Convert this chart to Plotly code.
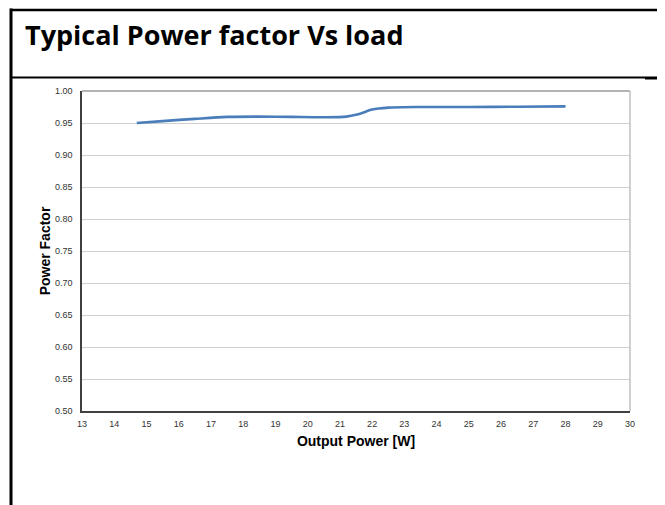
import plotly.graph_objects as go

# Data
output_power = [14.7, 15.5, 16.5, 17.5, 18.5, 19.5, 20.5, 21.2, 21.6, 22.0, 22.5, 23.5, 25.0, 26.5, 28.0]
power_factor = [0.950, 0.953, 0.9565, 0.9595, 0.960, 0.9595, 0.959, 0.960, 0.964, 0.971, 0.974, 0.9750, 0.9750, 0.9755, 0.9760]

x_ticks = list(range(13, 31))
y_ticks = [0.50, 0.55, 0.60, 0.65, 0.70, 0.75, 0.80, 0.85, 0.90, 0.95, 1.00]

OFF = 8  # page body margin
W, H = 665 - OFF, 505 - OFF
L, R, T, B = 82 - OFF, 630 - OFF, 91 - OFF, 411 - OFF  # plot area pixel bounds

def px(x):
    return (x - OFF - L) / (R - L)

def py(y):
    return (B - (y - OFF)) / (B - T)

fig = go.Figure()
fig.add_trace(go.Scatter(
    x=output_power, y=power_factor, mode="lines",
    line=dict(color="#4a7ebb", width=2.6, shape="spline", smoothing=0.8),
    showlegend=False, hoverinfo="skip"))

axis_font = dict(family="Liberation Sans, Arial, sans-serif", size=9, color="#333333")
title_font = dict(family="Liberation Sans, Arial, sans-serif", size=14, color="#000000")

fig.update_xaxes(
    range=[13, 30], tickvals=x_ticks, ticktext=[str(v) for v in x_ticks],
    showgrid=False, zeroline=False, showline=True, linecolor="#404040", linewidth=1.5,
    ticks="outside", ticklen=3, tickcolor="rgba(0,0,0,0)", tickfont=axis_font,
    title=dict(text="<b>Output Power [W]</b>", font=title_font, standoff=9))
fig.update_yaxes(
    range=[0.5, 1.0], tickvals=y_ticks, ticktext=["%.2f" % v for v in y_ticks],
    showgrid=True, gridcolor="#d0d0d0", gridwidth=1, zeroline=False,
    showline=True, linecolor="#404040", linewidth=1.5,
    ticks="outside", ticklen=6, tickcolor="rgba(0,0,0,0)", tickfont=axis_font,
    title=dict(text="<b>Power Factor</b>", font=title_font, standoff=1))

shapes = [
    # plot frame top and right (light gray)
    dict(type="line", xref="paper", yref="paper", x0=0, x1=1, y0=1, y1=1,
         line=dict(color="#9a9a9a", width=1.5)),
    dict(type="line", xref="paper", yref="paper", x0=1, x1=1, y0=0, y1=1,
         line=dict(color="#c0c0c0", width=1.5)),
    # document frame lines
    dict(type="line", xref="paper", yref="paper", x0=px(11), x1=px(11), y0=py(8.5), y1=py(506),
         line=dict(color="black", width=3)),
    dict(type="line", xref="paper", yref="paper", x0=px(10), x1=px(666), y0=py(10), y1=py(10),
         line=dict(color="black", width=2.5)),
    dict(type="line", xref="paper", yref="paper", x0=px(11), x1=px(666), y0=py(77.5), y1=py(77.5),
         line=dict(color="black", width=2)),
    dict(type="line", xref="paper", yref="paper", x0=px(645), x1=px(666), y0=py(78.5), y1=py(78.5),
         line=dict(color="black", width=2)),
]

fig.update_layout(
    width=W, height=H,
    margin=dict(l=L, r=W - R, t=T, b=H - B, pad=0),
    paper_bgcolor="white", plot_bgcolor="white",
    shapes=shapes,
    annotations=[dict(
        text="<b>Typical Power factor Vs load</b>", xref="paper", yref="paper",
        x=px(23), y=py(35), xanchor="left", yanchor="middle", showarrow=False,
        font=dict(family="Open Sans, Noto Sans, sans-serif", size=27, color="black"))],
)

fig.write_html("out.html")
